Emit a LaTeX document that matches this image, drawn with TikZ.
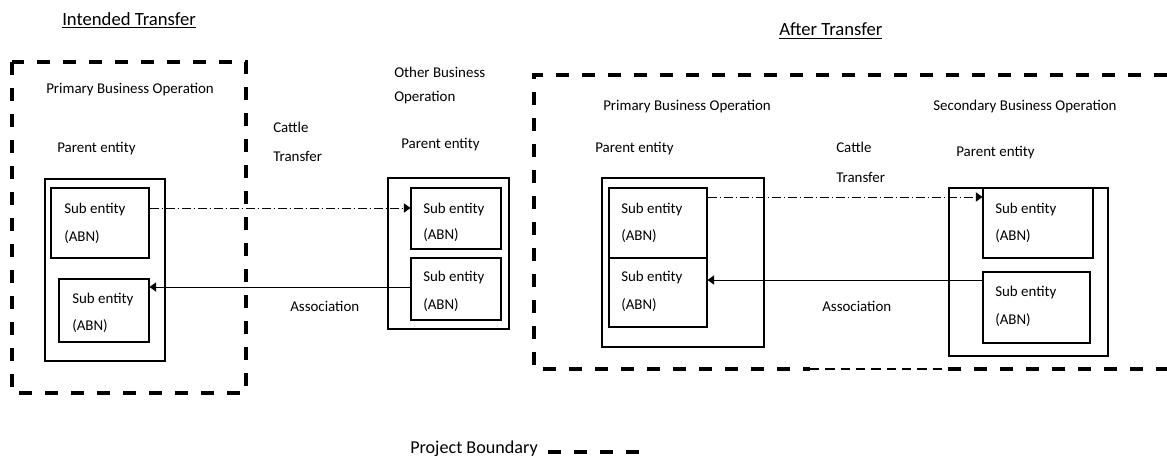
\documentclass[tikz,border=0pt]{standalone}
\usepackage{fontspec}
\setmainfont{Carlito}
\usetikzlibrary{arrows.meta,fit}
\begin{document}
\begin{tikzpicture}[x=0.75pt,y=-0.75pt,
 box/.style={draw, line width=0.8pt, inner sep=0pt},
 lbl/.style={anchor=west, inner sep=0pt, font=\fontsize{11.2}{13}\selectfont},
 ttl/.style={anchor=west, inner sep=0pt, font=\fontsize{14}{16}\selectfont},
 bnd/.style={line width=2.5pt, dash pattern=on 9.75pt off 9.75pt},
 thinbnd/.style={line width=1.6pt, dash pattern=on 7pt off 4.5pt},
 tr/.style={line width=0.75pt, dash pattern=on 6.75pt off 2.25pt on 0.75pt off 2.25pt, -{Triangle[length=5pt,width=7pt]}},
 asc/.style={line width=0.75pt, -{Triangle[length=5pt,width=7pt]}},
]
\useasboundingbox (0,0) rectangle (1167,460);

% titles
\node[ttl] (t1) at (62,20) {\underline{Intended Transfer}};
\node[ttl] (t2) at (779,31) {\underline{After Transfer}};

% project boundaries
\draw[bnd] (12,62) rectangle (246,393);
\draw[bnd] (1167,75) -- (534,75) -- (534,369) -- (810,369);
\draw[thinbnd] (810,369) -- (948,369);
\draw[bnd] (948,369) -- (1167,369);

% ---------- intended transfer ----------
\node[lbl] (pbo1) at (46,90) {Primary Business Operation};
\node[lbl] (pe1) at (57,149) {Parent entity};
\node[box, fit={(45,179) (165,361)}] (pp1) {};
\node[box, fit={(51,188) (149,258)}] (s1) {};
\node[box, fit={(59,279) (149,342)}] (s2) {};
\node[lbl] (s1a) at (64,210) {Sub entity};
\node[lbl] (s1b) at (64,237) {(ABN)};
\node[lbl] (s2a) at (72,300) {Sub entity};
\node[lbl] (s2b) at (72,326) {(ABN)};

\node[lbl] (ct1) at (273,127) {Cattle};
\node[lbl] (ct2) at (273,156) {Transfer};
\node[lbl] (as1) at (290,306) {Association};

\node[lbl] (ob1) at (394,72) {Other Business};
\node[lbl] (ob2) at (394,98) {Operation};
\node[lbl] (pe2) at (401,145) {Parent entity};
\node[box, fit={(388,178) (509,329)}] (pp2) {};
\node[box, fit={(411,188) (501,249)}] (s3) {};
\node[box, fit={(411,258) (501,320)}] (s4) {};
\node[lbl] (s3a) at (423,210) {Sub entity};
\node[lbl] (s3b) at (423,235) {(ABN)};
\node[lbl] (s4a) at (423,278) {Sub entity};
\node[lbl] (s4b) at (423,305) {(ABN)};

\draw[tr] (s1.east |- 0,208) -- (s3.west |- 0,208);
\draw[asc] (s4.west |- 0,287) -- (s2.east |- 0,287);

% ---------- after transfer ----------
\node[lbl] (pbo2) at (603,107) {Primary Business Operation};
\node[lbl] (pe3) at (595,149) {Parent entity};
\node[box, fit={(602,178) (764,347)}] (pp3) {};
\node[box, fit={(609,188) (707,258)}] (sA) {};
\node[box, fit={(609,258) (707,327)}] (sB) {};
\node[lbl] (sAa) at (621,210) {Sub entity};
\node[lbl] (sAb) at (621,236) {(ABN)};
\node[lbl] (sBa) at (621,278) {Sub entity};
\node[lbl] (sBb) at (621,305) {(ABN)};

\node[lbl] (ct3) at (836,147) {Cattle};
\node[lbl] (ct4) at (836,177) {Transfer};
\node[lbl] (as2) at (822,306) {Association};

\node[lbl] (sbo) at (933,107) {Secondary Business Operation};
\node[lbl] (pe4) at (956,153) {Parent entity};
\node[box, fit={(949,188) (1108,356)}] (pp4) {};
\node[box, fit={(983,188) (1093,258)}] (sC) {};
\node[box, fit={(983,272) (1090,343)}] (sD) {};
\node[lbl] (sCa) at (995,210) {Sub entity};
\node[lbl] (sCb) at (995,236) {(ABN)};
\node[lbl] (sDa) at (995,293) {Sub entity};
\node[lbl] (sDb) at (995,320) {(ABN)};

\draw[tr] (sA.east |- 0,197) -- (sC.west |- 0,197);
\draw[asc] (sD.west |- 0,280) -- (sB.east |- 0,280);

% ---------- legend ----------
\node[lbl, font=\fontsize{13.6}{16}\selectfont] (pb) at (410,449) {Project Boundary};
\coordinate (pbs) at (548,452);
\coordinate (pbe) at (640,452);
\draw[bnd] (pbs) -- (pbe);
\end{tikzpicture}
\end{document}
